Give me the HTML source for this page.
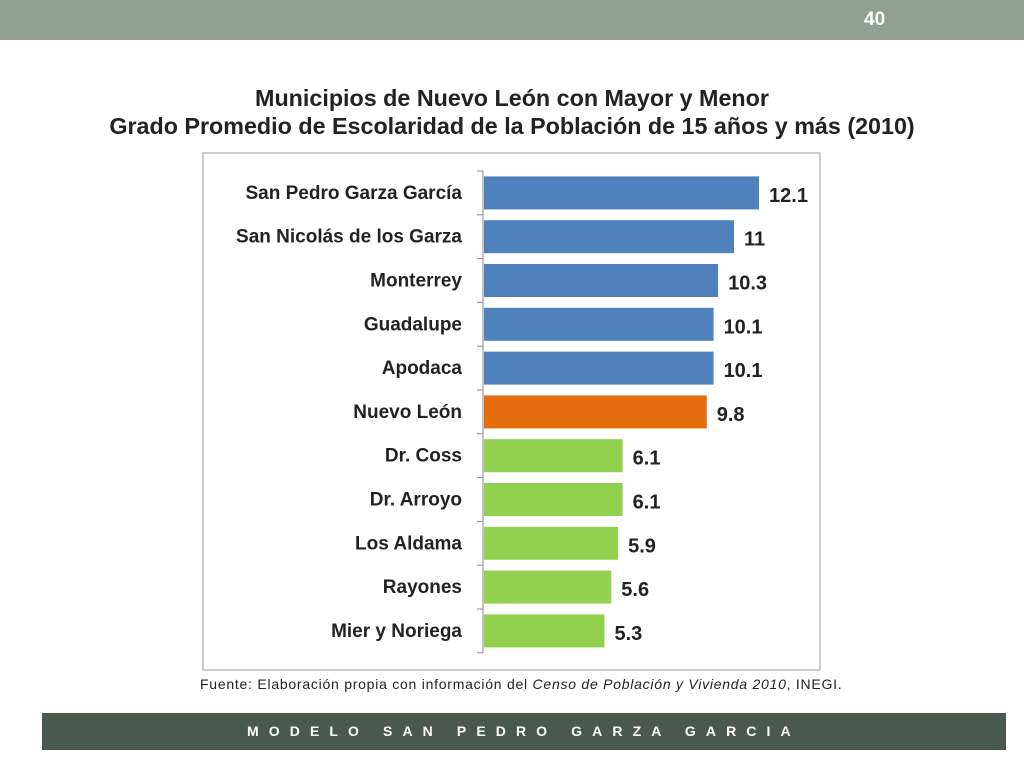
<!DOCTYPE html>
<html><head><meta charset="utf-8"><style>
body{margin:0;width:1024px;height:768px;background:#fff;position:relative;overflow:hidden;font-family:"Liberation Sans",sans-serif}
.top{position:absolute;left:0;top:0;width:1024px;height:40px;background:#91a196}
.pn{position:absolute;left:864px;top:9px;color:#fff;font-size:19px;font-weight:bold}
.title{position:absolute;left:0;width:1024px;text-align:center;font-weight:bold;font-size:23.3px;color:#222}
.foot{position:absolute;left:42px;top:713px;width:964px;height:37px;background:#4a5950}
.ft{position:absolute;left:205px;top:0;color:#fff;font-size:14px;font-weight:bold;letter-spacing:10.1px;line-height:37px;white-space:nowrap}
.src{position:absolute;left:200px;top:676px;font-size:14px;letter-spacing:0.75px;color:#222;white-space:nowrap}
</style></head><body>
<div class="top"></div>
<div class="pn">40</div>
<div class="title" style="top:85px">Municipios de Nuevo León con Mayor y Menor</div>
<div class="title" style="top:113px">Grado Promedio de Escolaridad de la Población de 15 años y más (2010)</div>
<svg id="ch" style="position:absolute;left:0;top:0" width="1024" height="768">
<rect x="203" y="153" width="617" height="517" fill="#fff" stroke="#bbb" stroke-width="1.5"/>
</svg>
<div class="src">Fuente: Elaboración propia con información del <i>Censo de Población y Vivienda 2010</i>, INEGI.</div>
<div class="foot"><div class="ft">MODELO SAN PEDRO GARZA GARCIA</div></div>
<script>
const categories=["San Pedro Garza García","San Nicolás de los Garza","Monterrey","Guadalupe","Apodaca","Nuevo León","Dr. Coss","Dr. Arroyo","Los Aldama","Rayones","Mier y Noriega"];
const values=[12.1,11,10.3,10.1,10.1,9.8,6.1,6.1,5.9,5.6,5.3];
const labels=["12.1","11","10.3","10.1","10.1","9.8","6.1","6.1","5.9","5.6","5.3"];
const groups=["top","top","top","top","top","state","low","low","low","low","low"];
const colors={top:"#4f81bd",state:"#e46c0a",low:"#92d050"};
const svg=document.getElementById('ch');const NS="http://www.w3.org/2000/svg";
const x0=484,ppu=22.73,y0=171,step=43.8;
const xs=v=>x0+v*ppu;
function mk(t,a){const e=document.createElementNS(NS,t);for(const k in a)e.setAttribute(k,a[k]);svg.appendChild(e);return e;}
const ax=mk('line',{x1:483,y1:y0,x2:483,y2:y0+step*categories.length,stroke:'#888','stroke-width':1});


for(let i=0;i<=categories.length;i++){
const t=mk('line',{x1:477,x2:483,y1:y0+i*step,y2:y0+i*step,stroke:'#888'});


}
categories.forEach((c,i)=>{
const cy=y0+i*step+step/2;
const r=mk('rect',{x:x0,y:cy-16.5,width:xs(values[i])-x0,height:33,fill:colors[groups[i]]});


const l=mk('text',{x:462,y:cy+6,'text-anchor':'end','font-size':19,'font-weight':'bold',fill:'#222','font-family':'Liberation Sans,sans-serif'});
l.textContent=c;


const v=mk('text',{x:xs(values[i])+10,y:cy+9,'font-size':20,'font-weight':'bold',fill:'#222','font-family':'Liberation Sans,sans-serif'});v.textContent=labels[i];


});
</script>
</body></html>
